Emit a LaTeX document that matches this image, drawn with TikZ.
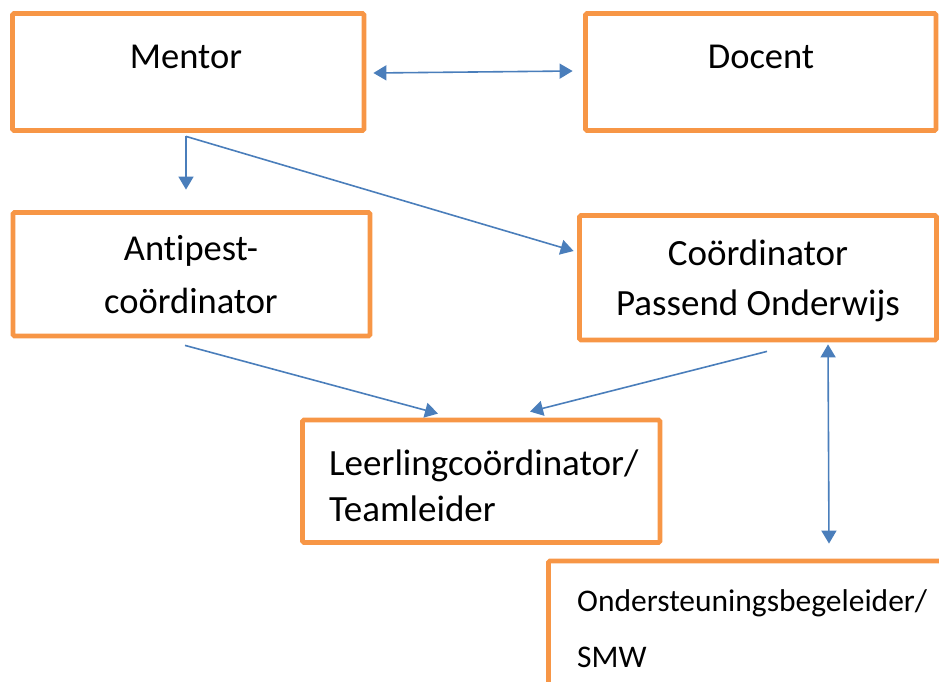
\documentclass[tikz,border=0pt]{standalone}
\usepackage{fontspec}
\setmainfont{Carlito}[Ligatures=NoCommon]
\usetikzlibrary{arrows.meta,calc}
\definecolor{boxorange}{HTML}{F79646}
\definecolor{arrowblue}{HTML}{4A7EBB}
\begin{document}
\begin{tikzpicture}[x=1pt,y=-1pt,
  box/.style={draw=boxorange, line width=4.8pt, rounded corners=1.5pt, inner sep=0pt},
  lbl/.style={inner sep=0pt, anchor=base, font=\fontsize{36.5}{44}\selectfont},
  conn/.style={draw=arrowblue, line width=1.6pt, -{Triangle[length=13pt,width=15pt]}},
  bconn/.style={conn, {Triangle[length=13pt,width=15pt]}-{Triangle[length=13pt,width=15pt]}}]
\useasboundingbox (0,0) rectangle (939,682);
\clip (0,0) rectangle (939,682);
% boxes
\node[box, minimum width=351.5pt, minimum height=117pt] (mentor) at (188.25,72) {};
\node[box, minimum width=350.5pt, minimum height=117pt] (docent) at (760.75,72) {};
\node[box, minimum width=357pt, minimum height=123.5pt] (antipest) at (191.5,274.25) {};
\node[box, minimum width=357pt, minimum height=124.5pt] (cpo) at (758,277.75) {};
\node[box, minimum width=357.5pt, minimum height=122.5pt] (leerling) at (481.25,481.25) {};
\node[box, minimum width=411.5pt, minimum height=159pt] (onder) at (754.25,640.5) {};
% texts
\node[lbl] (mentortxt) at (186,69) {Mentor};
\node[lbl] (docenttxt) at (761,69) {Docent};
\node[lbl] (antitxt) at (191,260) {\fontsize{36.5}{53}\selectfont\begin{tabular}[t]{@{}c@{}}Antipest-\\coördinator\end{tabular}};
\node[lbl] (cpotxt) at (758,265) {\fontsize{37}{50}\selectfont\begin{tabular}[t]{@{}c@{}}Coördinator\\Passend Onderwijs\end{tabular}};
\node[lbl, anchor=base west] (leerltxt) at (329,475) {\fontsize{37}{46.7}\selectfont\begin{tabular}[t]{@{}l@{}}Leerlingcoördinator/\\Teamleider\end{tabular}};
\node[lbl, anchor=base west] (ondertxt) at (577,611) {\fontsize{31.5}{56}\selectfont\begin{tabular}[t]{@{}l@{}}Ondersteuningsbegeleider/\\SMW\end{tabular}};
% connectors
\coordinate (fork) at ($(mentor.south)+(-2.25,3.5)$);
\draw[bconn] ($(mentor.east)+(7,1)$) -- ($(docent.west)+(-10.5,-1)$);
\draw[conn] (fork) -- ($(antipest.north)+(-5.5,-20.5)$);
\draw[conn] (fork) -- ($(cpo.west)+(-3.5,-26.75)$);
\draw[conn] ($(antipest.south)+(-6.5,7)$) -- ($(leerling.north)+(-43.25,-4)$);
\draw[conn] ($(cpo.south)+(9,9)$) -- ($(leerling.north)+(48.75,-6)$);
\draw[bconn] ($(cpo.south)+(70,2)$) -- ($(onder.north)+(74.75,-15)$);
\end{tikzpicture}
\end{document}
